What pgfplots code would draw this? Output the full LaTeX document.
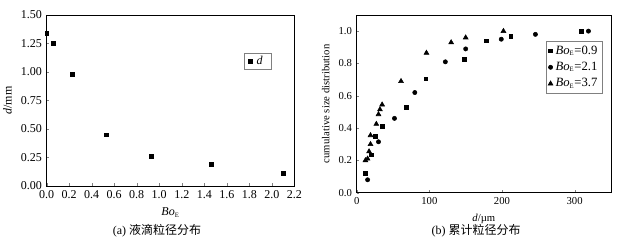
\documentclass[border=0pt]{standalone}
\usepackage{fontspec}
\setmainfont{Liberation Serif}
\newfontfamily\cjk{Noto Sans CJK SC}
\usepackage{pgfplots}
\pgfplotsset{compat=1.18}
\begin{document}
\begin{tikzpicture}
\useasboundingbox (0pt,0pt) rectangle (473.25pt,183pt);
\pgfplotsset{
  every axis/.append style={
    scale only axis,
    font=\fontsize{8}{9}\selectfont,
    /pgf/number format/assume math mode=true,
    tick pos=left,
    tick align=inside,
    major tick length=2pt,
    axis line style={line width=0.5pt},
    legend style={draw=gray, line width=0.4pt, font=\fontsize{8}{9}\selectfont,
      inner sep=1pt, row sep=-1pt, cells={anchor=west}},
    legend cell align=left,
  },
}
\begin{axis}[
  at={(35.025pt,43.5pt)}, anchor=south west,
  width=185.7pt, height=128.25pt,
  font=\fontsize{9}{10}\selectfont,
  xmin=0, xmax=2.2, ymin=0, ymax=1.5,
  xtick={0,0.2,...,2.2},
  ytick={0,0.25,0.5,0.75,1,1.25,1.5},
  xticklabel style={/pgf/number format/.cd, fixed, fixed zerofill, precision=1},
  yticklabel style={/pgf/number format/.cd, fixed, fixed zerofill, precision=2},
  scaled ticks=false,
  xlabel={\textit{Bo}\textsubscript{\tiny E}},
  ylabel={\textit{d}/mm},
  legend style={at={(0.797,0.778)}, anchor=north west, inner ysep=0pt, inner xsep=3pt,
    font=\fontsize{9}{9}\selectfont},
]
\addplot[only marks, mark=square*, mark size=1.4pt, black] coordinates {
(0,1.34) (0.06,1.25) (0.23,0.98) (0.53,0.45) (0.93,0.26) (1.46,0.19) (2.1,0.11)};
\addlegendentry{\,\textit{d}\,}
\end{axis}
\begin{axis}[
  at={(267.525pt,38.475pt)}, anchor=south west,
  width=190.7pt, height=133.3pt,
  xmin=0, xmax=350, ymin=0, ymax=1.1,
  xtick={0,100,200,300},
  ytick={0,0.2,...,1.0},
  yticklabel style={/pgf/number format/.cd, fixed, fixed zerofill, precision=1},
  xlabel={\textit{d}/\textmu m},
  ylabel={cumulative size distribution},
  legend style={at={(0.744,0.855)}, anchor=north west, font=\fontsize{9.5}{10}\selectfont,
    inner sep=1.5pt, row sep=0.5pt},
]
\addplot[only marks, mark=square*, mark size=1.4pt, black] coordinates {
(12,0.12) (20,0.235) (26,0.35) (35,0.41) (68,0.53) (95,0.705) (148,0.825) (178,0.94) (212,0.97) (309,1.0)};
\addlegendentry{\textit{Bo}\textsubscript{\tiny E}=0.9}
\addplot[only marks, mark=*, mark size=1.6pt, black] coordinates {
(15,0.08) (30,0.315) (52,0.46) (80,0.62) (122,0.81) (150,0.89) (199,0.95) (246,0.98) (319,1.0)};
\addlegendentry{\textit{Bo}\textsubscript{\tiny E}=2.1}
\addplot[only marks, mark=triangle*, mark size=2.1pt, black] coordinates {
(12,0.2) (15,0.21) (17,0.255) (19,0.30) (19,0.355) (27,0.425) (30,0.485) (32,0.515) (35,0.545) (61,0.69) (96,0.865) (130,0.93) (150,0.96) (202,1.0)};
\addlegendentry{\textit{Bo}\textsubscript{\tiny E}=3.7}
\end{axis}
\node[font=\fontsize{9}{10}\selectfont] at (117.75pt,9.75pt) {(a) {\cjk 液滴粒径分布}};
\node[font=\fontsize{9}{10}\selectfont] at (357pt,9.75pt) {(b) {\cjk 累计粒径分布}};
\end{tikzpicture}
\end{document}
